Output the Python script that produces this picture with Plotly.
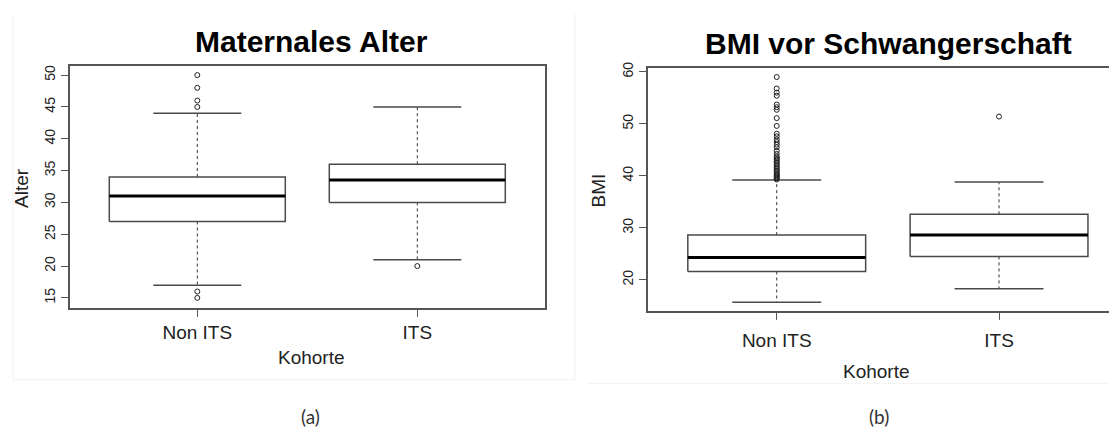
import plotly.graph_objects as go

W, H = 1117, 429
OFF = 8  # page body margin of the browser; figure is shifted by it
FW, FH = W - OFF, H - OFF


def fx(p):
    return (p - OFF) / FW


def fy(p):
    return 1 - (p - OFF) / FH


# ---------------- data ----------------
cohorts = ["Non ITS", "ITS"]

age_ticks = [15, 20, 25, 30, 35, 40, 45, 50]
age_q1 = [27, 30]
age_median = [31, 33.5]
age_q3 = [34, 36]
age_lower = [17, 21]
age_upper = [44, 45]
age_outliers_non_its = [15, 16, 45, 46, 48, 50]
age_outliers_its = [20]

bmi_ticks = [20, 30, 40, 50, 60]
bmi_q1 = [21.6, 24.5]
bmi_median = [24.3, 28.6]
bmi_q3 = [28.6, 32.6]
bmi_lower = [15.7, 18.3]
bmi_upper = [39.2, 38.8]
bmi_outliers_non_its = [39.3, 39.5, 39.7, 39.9, 40.1, 40.3, 40.5, 40.8, 41.0, 41.3,
                        41.6, 41.9, 42.2, 42.5, 42.8, 43.1, 43.4, 43.7, 44.2, 44.8,
                        45.5, 46.0, 46.5, 47.0, 47.6, 48.1, 49.6, 51.1, 52.7, 53.2,
                        53.7, 55.4, 56.0, 56.8, 59.0]
bmi_outliers_its = [51.4]

FONT = "Liberation Sans, Arial, sans-serif"
LINE = "#4a4a4a"

fig = go.Figure()


def add_boxes(q1, med, q3, lo, hi, outs, xa, ya):
    for i, name in enumerate(cohorts):
        p = i + 1
        common = dict(xaxis=xa, yaxis=ya, hoverinfo="skip", showlegend=False)
        # dashed whiskers
        fig.add_trace(go.Scatter(x=[p, p, None, p, p], y=[q3[i], hi[i], None, q1[i], lo[i]],
                                 mode="lines", line=dict(color="#333", width=1, dash="3px,3px"), **common))
        # whisker caps
        fig.add_trace(go.Scatter(x=[p - 0.2, p + 0.2, None, p - 0.2, p + 0.2],
                                 y=[hi[i], hi[i], None, lo[i], lo[i]],
                                 mode="lines", line=dict(color=LINE, width=1.5), **common))
        # box
        fig.add_trace(go.Scatter(x=[p - 0.4, p + 0.4, p + 0.4, p - 0.4, p - 0.4],
                                 y=[q1[i], q1[i], q3[i], q3[i], q1[i]],
                                 mode="lines", fill="toself", fillcolor="white",
                                 line=dict(color=LINE, width=1.5), **common))
        # median
        fig.add_trace(go.Scatter(x=[p - 0.4, p + 0.4], y=[med[i], med[i]], mode="lines",
                                 line=dict(color="black", width=3), **common))
        # outliers
        fig.add_trace(go.Scatter(x=[p] * len(outs[i]), y=outs[i], mode="markers",
                                 marker=dict(symbol="circle-open", size=5, color="#222",
                                             line=dict(width=1)), **common))


add_boxes(age_q1, age_median, age_q3, age_lower, age_upper,
          [age_outliers_non_its, age_outliers_its], "x", "y")
add_boxes(bmi_q1, bmi_median, bmi_q3, bmi_lower, bmi_upper,
          [bmi_outliers_non_its, bmi_outliers_its], "x2", "y2")

axis_common = dict(showgrid=False, zeroline=False, showline=True, linecolor="#555",
                   linewidth=1.5, ticks="outside", ticklen=7, tickcolor="#555", tickwidth=1.2)

right_span = (W - 647.8) / 222.3

fig.update_layout(
    width=FW, height=FH, autosize=False,
    margin=dict(l=0, r=0, t=0, b=0),
    paper_bgcolor="white", plot_bgcolor="white",
    xaxis=dict(domain=[fx(69.7), fx(544.9)], range=[0.42, 2.58], anchor="y",
               tickvals=[1, 2], ticktext=cohorts, mirror=True,
               tickfont=dict(family=FONT, size=19, color="#222"), ticklabelstandoff=0,
               **axis_common),
    yaxis=dict(domain=[fy(306), fy(61)], range=[13.45, 51.39], anchor="x",
               tickvals=age_ticks, tickangle=-90, mirror=True,
               tickfont=dict(family=FONT, size=14, color="#222"),
               **axis_common),
    xaxis2=dict(domain=[fx(647.8), 1.0], range=[0.42, 0.42 + right_span], anchor="y2",
                tickvals=[1, 2], ticktext=cohorts, mirror=True,
                tickfont=dict(family=FONT, size=19, color="#222"), ticklabelstandoff=4,
                **axis_common),
    yaxis2=dict(domain=[fy(309.3), fy(62.3)], range=[14.0, 60.83], anchor="x2",
                tickvals=bmi_ticks, tickangle=-90, mirror=False,
                tickfont=dict(family=FONT, size=14, color="#222"),
                **axis_common),
)

ann = []


def text(x, y, s, size, bold=False, angle=0, family=FONT, color="black"):
    ann.append(dict(x=fx(x), y=fy(y), xref="paper", yref="paper", text=f"<b>{s}</b>" if bold else s,
                    showarrow=False, xanchor="center", yanchor="middle", textangle=angle,
                    font=dict(family=family, size=size, color=color)))


text(311.5, 36, "Maternales Alter", 30, bold=True)
text(888, 38, "BMI vor Schwangerschaft", 30, bold=True)
text(21.5, 185, "Alter", 19, angle=-90, color="#222")
text(598.5, 187.5, "BMI", 19, angle=-90, color="#222")
text(311.7, 356, "Kohorte", 19, color="#222")
text(876.7, 371, "Kohorte", 19, color="#222")
text(310, 416, "(a)", 19, family="Lato, Open Sans, sans-serif", color="#333")
text(879, 416, "(b)", 19, family="Lato, Open Sans, sans-serif", color="#333")
fig.update_layout(annotations=ann)

# faint panel frames
shapes = [
    dict(type="line", xref="paper", yref="paper", x0=fx(13), x1=fx(13), y0=1, y1=fy(379),
         line=dict(color="#f1f1f1", width=1)),
    dict(type="line", xref="paper", yref="paper", x0=fx(13), x1=fx(575), y0=fy(379), y1=fy(379),
         line=dict(color="#f1f1f1", width=1)),
    dict(type="line", xref="paper", yref="paper", x0=fx(575), x1=fx(575), y0=1, y1=fy(379),
         line=dict(color="#f1f1f1", width=1)),
    dict(type="line", xref="paper", yref="paper", x0=fx(587), x1=1, y0=fy(383), y1=fy(383),
         line=dict(color="#f3f3f3", width=1)),
]
fig.update_layout(shapes=shapes)

fig.write_html("out.html")
